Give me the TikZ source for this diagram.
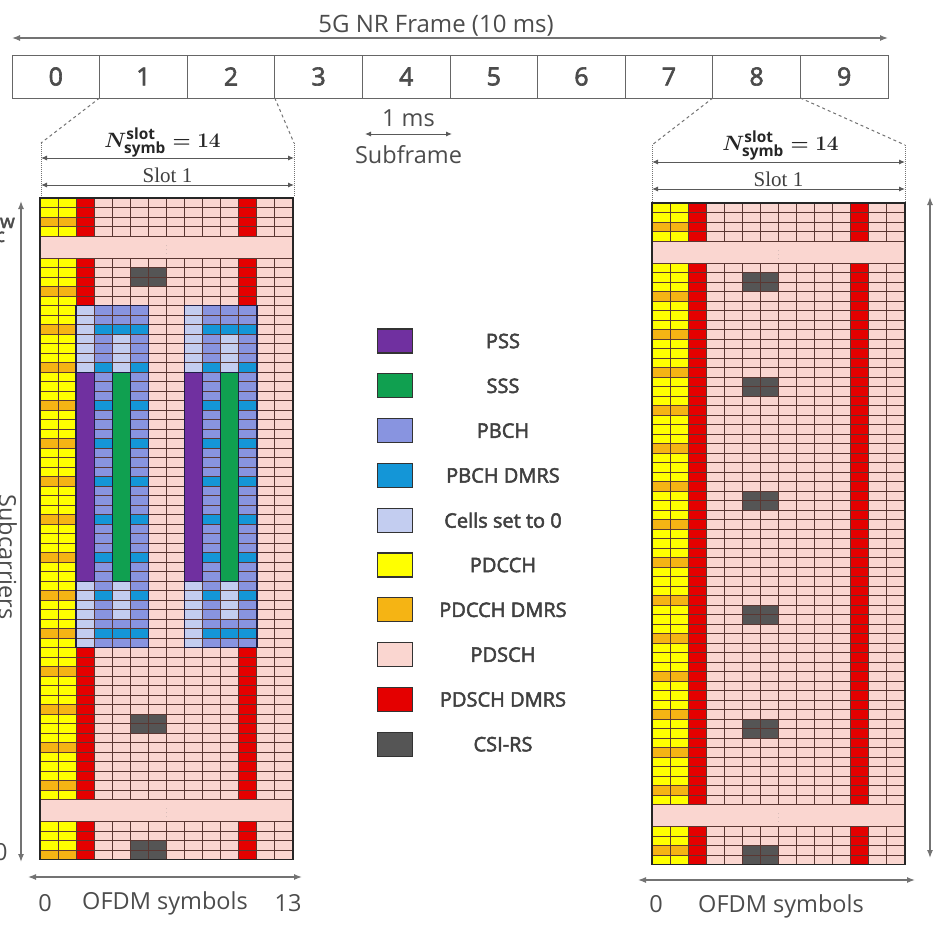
\documentclass[tikz,border=0pt]{standalone}
\usepackage{fontspec}
\setmainfont{Open Sans}
\newfontfamily\semib{Open Sans}[FakeBold=2.5]
\newfontfamily\slotserif{Liberation Serif}
\usepackage{xcolor}
\usepackage{tikz}
\usetikzlibrary{arrows.meta, positioning, calc}

\definecolor{pssc}{RGB}{112,48,160}
\definecolor{sssc}{RGB}{16,160,80}
\definecolor{pbchc}{RGB}{136,148,224}
\definecolor{pbchdmrsc}{RGB}{20,150,215}
\definecolor{zeroc}{RGB}{195,205,240}
\definecolor{pdcchc}{RGB}{255,255,0}
\definecolor{pdcchdmrsc}{RGB}{245,180,20}
\definecolor{pdschc}{RGB}{250,214,208}
\definecolor{pdschdmrsc}{RGB}{228,0,0}
\definecolor{csirsc}{RGB}{85,85,85}
\definecolor{gridc}{RGB}{90,55,50}
\definecolor{ssbc}{RGB}{30,30,70}

\newcommand{\cw}{18.07}
\newcommand{\rh}{9.5}

\newcommand{\gridsec}[3]{%
  \fill[pdcchc] (0,#1) rectangle (2*\cw,#1+#2*\rh);
  \foreach \r in {#3} \fill[pdcchdmrsc] (0,#1+\r*\rh) rectangle (2*\cw,#1+\r*\rh+\rh);
  \fill[pdschdmrsc] (2*\cw,#1) rectangle (3*\cw,#1+#2*\rh);
  \fill[pdschdmrsc] (11*\cw,#1) rectangle (12*\cw,#1+#2*\rh);
}
\newcommand{\csi}[1]{\fill[csirsc] (5*\cw,#1) rectangle (7*\cw,#1+2*\rh);}
\newcommand{\gridlines}[2]{%
  \foreach \k in {0,...,#2} \draw[gridc, line width=0.9pt] (0,#1+\k*\rh) -- (14*\cw,#1+\k*\rh);
  \foreach \k in {1,...,13} \draw[gridc, line width=0.9pt] (\k*\cw,#1) -- (\k*\cw,#1+#2*\rh);
}
\newcommand{\ssb}[1]{%
  \fill[pbchc] ({(#1+1)*\cw},107.5) rectangle ({(#1+4)*\cw},449.5);
  \foreach \r in {2,6,...,34} \fill[pbchdmrsc] ({(#1+1)*\cw},107.5+\r*\rh) rectangle ({(#1+4)*\cw},107.5+\r*\rh+\rh);
  \fill[zeroc] ({#1*\cw},107.5) rectangle ({(#1+1)*\cw},449.5);
  \fill[zeroc] ({(#1+2)*\cw},136) rectangle ({(#1+3)*\cw},421);
}
\newcommand{\ssbtop}[1]{%
  \filldraw[fill=pssc, draw=ssbc, line width=0.6pt] ({#1*\cw},174) rectangle ({(#1+1)*\cw},383);
  \filldraw[fill=sssc, draw=ssbc, line width=0.6pt] ({(#1+2)*\cw},174) rectangle ({(#1+3)*\cw},383);
  \draw[ssbc, line width=1.6pt] ({#1*\cw},107.5) rectangle ({(#1+4)*\cw},449.5);
}

\begin{document}
\begin{tikzpicture}[x=1pt, y=-1pt]
\tikzstyle{sfbox} = [rectangle, draw=black!60, line width=1pt, outer sep=0pt, minimum width=87.6pt, minimum height=43pt, text=black!70, font=\semib\fontsize{25}{28}\selectfont]
\tikzstyle{dimarrow} = [{Latex[length=8pt,width=6pt]}-{Latex[length=8pt,width=6pt]}, draw=black!55, line width=1.3pt]
\tikzstyle{slotarrow} = [{Latex[length=6pt,width=5pt]}-{Latex[length=6pt,width=5pt]}, draw=black!65, line width=1pt]
\tikzstyle{zoomln} = [draw=black!55, dashed, line width=1pt]
\tikzstyle{dotln} = [draw=black!55, densely dotted, line width=1pt]
\tikzstyle{legbox} = [rectangle, draw=black!80, line width=1.2pt, minimum width=35pt, minimum height=24pt]
\tikzstyle{legtext} = [text=black!75, font=\semib\fontsize{20}{23}\selectfont]
\tikzstyle{axtext} = [text=black!70, font=\fontsize{23.5}{27}\selectfont]
\tikzstyle{nsym} = [text=black!85, font=\boldmath\fontsize{22}{25}\selectfont, anchor=base, inner sep=0pt]
\tikzstyle{slotlbl} = [text=black!75, font=\slotserif\fontsize{21}{24}\selectfont, anchor=base, inner sep=0pt]
\tikzstyle{dots} = [text=black!50, font=\tiny, inner sep=0pt]

\fill[white] (0,0) rectangle (938,938);
\useasboundingbox (0,0) rectangle (938,938);

\node (sf0) [sfbox] at (55.8,76.5) {0};
\foreach \i [remember=\i as \j (initially 0)] in {1,...,9}
  \node (sf\i) [sfbox, right=0pt of sf\j] {\i};
\draw[dimarrow] ([yshift=17pt]sf0.north west) -- ([yshift=17pt]sf9.north east)
  node (frame) [midway, anchor=base, yshift=6pt, xshift=-14pt, inner sep=0pt, text=black!70, font=\fontsize{24}{27}\selectfont] {5G NR Frame (10 ms)};

\coordinate (ms1) at (365,134);
\coordinate (ms2) at (452,134);
\draw[slotarrow] (ms1) -- (ms2);
\node (onems) [axtext, above=3.5pt of $(ms1)!0.5!(ms2)$] {1 ms};
\node (subf) [axtext, below=8pt of $(ms1)!0.5!(ms2)$] {Subframe};

\coordinate (la) at (41,143);
\coordinate (la2) at (41,197);
\coordinate (lb) at (294,143);
\coordinate (lb2) at (294,197);
\draw[zoomln] (sf1.south west) -- (la);
\draw[zoomln] (sf2.south east) -- (lb);
\draw[dotln] (la) -- (la2);
\draw[dotln] (lb) -- (lb2);
\coordinate (lna) at (41,158);
\coordinate (lnb) at (294,158);
\coordinate (lsa) at (41,185);
\coordinate (lsb) at (294,185);
\draw[slotarrow] (lna) -- (lnb) node (lnsym) [nsym, midway, yshift=11pt, xshift=-5pt] {$N_{\mathrm{symb}}^{\mathrm{slot}} = 14$};
\draw[slotarrow] (lsa) -- (lsb) node (lslot) [slotlbl, midway, yshift=2.5pt] {Slot 1};

\coordinate (ra) at (652,145);
\coordinate (ra2) at (652,202);
\coordinate (rb) at (905,145);
\coordinate (rb2) at (905,202);
\draw[zoomln] (sf8.south west) -- (ra);
\draw[zoomln] (sf8.south east) -- (rb);
\draw[dotln] (ra) -- (ra2);
\draw[dotln] (rb) -- (rb2);
\coordinate (rna) at (652,162);
\coordinate (rnb) at (905,162);
\coordinate (rsa) at (652,189);
\coordinate (rsb) at (905,189);
\draw[slotarrow] (rna) -- (rnb) node (rnsym) [nsym, midway, yshift=12pt, xshift=2pt] {$N_{\mathrm{symb}}^{\mathrm{slot}} = 14$};
\draw[slotarrow] (rsa) -- (rsb) node (rslot) [slotlbl, midway, yshift=3pt] {Slot 1};

\begin{scope}[shift={(40,198)}]
  \fill[pdschc] (0,0) rectangle (14*\cw,661.5);
  \gridsec{0}{4}{2}
  \gridsec{60}{57}{3,7,...,55}
  \gridsec{623.5}{4}{3}
  \csi{60+1*\rh}
  \csi{60+48*\rh}
  \csi{623.5+2*\rh}
  \ssb{2}
  \ssb{8}
  \gridlines{0}{4}
  \gridlines{60}{57}
  \gridlines{623.5}{4}
  \ssbtop{2}
  \ssbtop{8}
  \draw[black!85, line width=1.6pt] (0,0) rectangle (14*\cw,661.5);
  \node (ldots1) [dots] at (7*\cw,49) {$\vdots$};
  \node (ldots2) [dots] at (7*\cw,612.5) {$\vdots$};
\end{scope}

\begin{scope}[shift={(652,203)}]
  \fill[pdschc] (0,0) rectangle (14*\cw,661.5);
  \gridsec{0}{4}{2}
  \gridsec{60}{57}{3,7,...,55}
  \gridsec{623.5}{4}{2}
  \foreach \r in {1,12,24,36,48} \csi{60+\r*\rh}
  \csi{623.5+2*\rh}
  \gridlines{0}{4}
  \gridlines{60}{57}
  \gridlines{623.5}{4}
  \draw[black!85, line width=1.6pt] (0,0) rectangle (14*\cw,661.5);
  \node (rdots1) [dots] at (7*\cw,49) {$\vdots$};
  \node (rdots2) [dots] at (7*\cw,612.5) {$\vdots$};
\end{scope}

\coordinate (lax1) at (21,201);
\coordinate (lax2) at (21,862);
\draw[dimarrow] (lax1) -- (lax2);
\node (subc) [axtext, rotate=-90, anchor=base] at (-1,557) {Subcarriers};
\node (lw) [axtext, anchor=base east, inner sep=0pt, font=\semib\fontsize{19}{22}\selectfont] at (15,228) {w};
\node (lc) [axtext, anchor=base east, inner sep=0pt, font=\semib\fontsize{19}{22}\selectfont] at (5,242) {c};
\node (lzero) [axtext, anchor=base east] at (11,860) {0};
\coordinate (bxa) at (28,877);
\coordinate (bxb) at (302,877);
\draw[dimarrow] (bxa) -- (bxb);
\node (bzero) [axtext] at (45,903) {0};
\node (bofdm) [axtext] at (165,903) {OFDM symbols};
\node (bend) [axtext] at (288,903) {13};

\coordinate (rax1) at (930,197);
\coordinate (rax2) at (930,858);
\draw[dimarrow] (rax1) -- (rax2);
\coordinate (rxa) at (638,880);
\coordinate (rxb) at (915,880);
\draw[dimarrow] (rxa) -- (rxb);
\node (rzero) [axtext] at (656,904) {0};
\node (rofdm) [axtext] at (781,906) {OFDM symbols};

\coordinate (tx) at (503,0);
\node (lg1) [legbox, fill=pssc] at (395,341) {};
\node (lt1) [legtext] at (lg1 -| tx) {PSS};
\foreach \c/\t [count=\i from 2, remember=\i as \j (initially 1)] in {sssc/SSS, pbchc/PBCH, pbchdmrsc/PBCH DMRS, zeroc/Cells set to 0, pdcchc/PDCCH, pdcchdmrsc/PDCCH DMRS, pdschc/PDSCH, pdschdmrsc/PDSCH DMRS, csirsc/CSI-RS}{
  \node (lg\i) [legbox, fill=\c, below=19.6pt of lg\j] {};
  \node (lt\i) [legtext] at (lg\i -| tx) {\t};
}
\end{tikzpicture}
\end{document}
